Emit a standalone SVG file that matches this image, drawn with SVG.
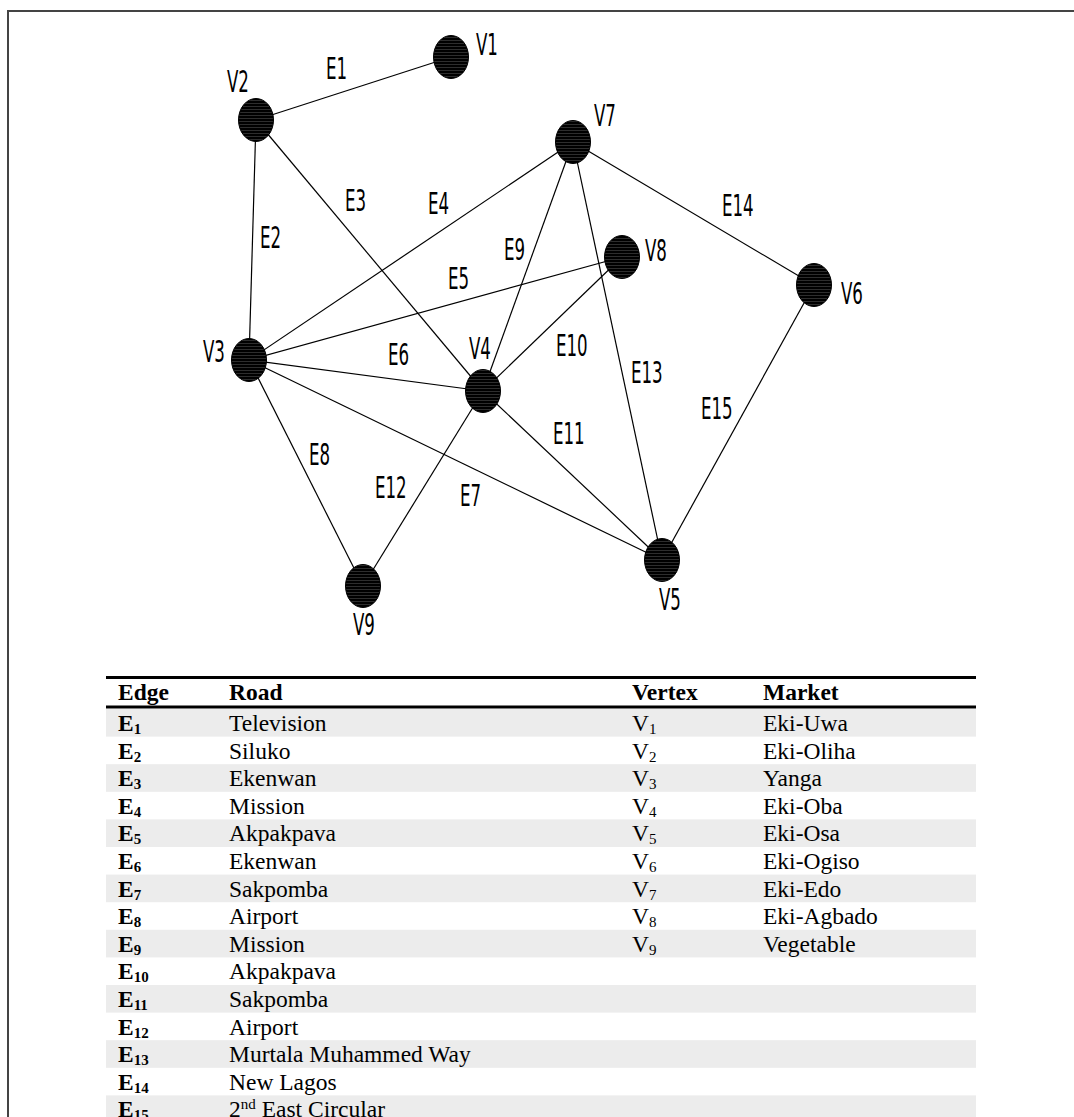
<svg xmlns="http://www.w3.org/2000/svg" width="1074" height="1117" viewBox="0 0 1074 1117">
<style>
.edge{stroke:#000;stroke-width:1.2;fill:none}
.node{fill:url(#hatch);stroke:#000;stroke-width:1}
.lbl{font-family:"DejaVu Sans Condensed","DejaVu Sans",sans-serif;font-stretch:condensed;font-size:18.5px;fill:#000}
.th{font-family:"Liberation Serif","Times New Roman",serif;font-weight:bold;font-size:23.5px;fill:#000}
.td{font-family:"Liberation Serif","Times New Roman",serif;font-size:23.5px;fill:#000}
.eb{font-weight:bold}
.sub{font-size:15px}
.band{fill:#ececec}
.rule{stroke:#000;fill:none}
.frame{stroke:#444;stroke-width:2;fill:none}
</style>
<defs>
<pattern id="hatch" patternUnits="userSpaceOnUse" width="6" height="3">
<rect width="6" height="3" fill="#000"/>
<line x1="0" y1="1.5" x2="6" y2="1.5" stroke="#5a5a5a" stroke-width="0.5"/>
</pattern>
</defs>
<rect width="1074" height="1117" fill="#fff"/>
<path class="frame" d="M8,1117 V11 H1074"/>

<g id="connectors">
<line class="edge" x1="256" y1="120" x2="451" y2="57"/>
<line class="edge" x1="256" y1="120" x2="249" y2="360"/>
<line class="edge" x1="256" y1="120" x2="483" y2="391"/>
<line class="edge" x1="249" y1="360" x2="573" y2="142"/>
<line class="edge" x1="249" y1="360" x2="622" y2="257"/>
<line class="edge" x1="249" y1="360" x2="483" y2="391"/>
<line class="edge" x1="249" y1="360" x2="662" y2="560"/>
<line class="edge" x1="249" y1="360" x2="363" y2="586"/>
<line class="edge" x1="483" y1="391" x2="573" y2="142"/>
<line class="edge" x1="483" y1="391" x2="622" y2="257"/>
<line class="edge" x1="483" y1="391" x2="662" y2="560"/>
<line class="edge" x1="483" y1="391" x2="363" y2="586"/>
<line class="edge" x1="573" y1="142" x2="662" y2="560"/>
<line class="edge" x1="573" y1="142" x2="814" y2="285"/>
<line class="edge" x1="814" y1="285" x2="662" y2="560"/>
</g>

<g id="edge-labels">
<text class="lbl" transform="translate(326,79) scale(1,1.63)">E1</text>
<text class="lbl" transform="translate(260,248) scale(1,1.63)">E2</text>
<text class="lbl" transform="translate(345,211) scale(1,1.63)">E3</text>
<text class="lbl" transform="translate(428,214) scale(1,1.63)">E4</text>
<text class="lbl" transform="translate(448,289) scale(1,1.63)">E5</text>
<text class="lbl" transform="translate(388,365) scale(1,1.63)">E6</text>
<text class="lbl" transform="translate(460,506) scale(1,1.63)">E7</text>
<text class="lbl" transform="translate(309,465) scale(1,1.63)">E8</text>
<text class="lbl" transform="translate(504,260) scale(1,1.63)">E9</text>
<text class="lbl" transform="translate(556,356) scale(1,1.63)">E10</text>
<text class="lbl" transform="translate(553,444) scale(1,1.63)">E11</text>
<text class="lbl" transform="translate(375,498) scale(1,1.63)">E12</text>
<text class="lbl" transform="translate(631,383) scale(1,1.63)">E13</text>
<text class="lbl" transform="translate(722,216) scale(1,1.63)">E14</text>
<text class="lbl" transform="translate(701,419) scale(1,1.63)">E15</text>
</g>

<g id="V1"><ellipse class="node" cx="451" cy="57" rx="17.5" ry="21.5"/><text class="lbl" transform="translate(476,55) scale(1,1.63)">V1</text></g>
<g id="V2"><ellipse class="node" cx="256" cy="120" rx="17.5" ry="21.5"/><text class="lbl" transform="translate(227,92) scale(1,1.63)">V2</text></g>
<g id="V3"><ellipse class="node" cx="249" cy="360" rx="17.5" ry="21.5"/><text class="lbl" transform="translate(203,362) scale(1,1.63)">V3</text></g>
<g id="V4"><ellipse class="node" cx="483" cy="391" rx="17.5" ry="21.5"/><text class="lbl" transform="translate(469,359) scale(1,1.63)">V4</text></g>
<g id="V5"><ellipse class="node" cx="662" cy="560" rx="17.5" ry="21.5"/><text class="lbl" transform="translate(659,610) scale(1,1.63)">V5</text></g>
<g id="V6"><ellipse class="node" cx="814" cy="285" rx="17.5" ry="21.5"/><text class="lbl" transform="translate(841,304) scale(1,1.63)">V6</text></g>
<g id="V7"><ellipse class="node" cx="573" cy="142" rx="17.5" ry="21.5"/><text class="lbl" transform="translate(594,126) scale(1,1.63)">V7</text></g>
<g id="V8"><ellipse class="node" cx="622" cy="257" rx="17.5" ry="21.5"/><text class="lbl" transform="translate(645,261) scale(1,1.63)">V8</text></g>
<g id="V9"><ellipse class="node" cx="363" cy="586" rx="17.5" ry="21.5"/><text class="lbl" transform="translate(353,635) scale(1,1.63)">V9</text></g>

<g id="table">
<rect class="band" x="106" y="709" width="870" height="27.6"/>
<rect class="band" x="106" y="764.2" width="870" height="27.6"/>
<rect class="band" x="106" y="819.4" width="870" height="27.6"/>
<rect class="band" x="106" y="874.6" width="870" height="27.6"/>
<rect class="band" x="106" y="929.8" width="870" height="27.6"/>
<rect class="band" x="106" y="985" width="870" height="27.6"/>
<rect class="band" x="106" y="1040.2" width="870" height="27.6"/>
<rect class="band" x="106" y="1095.4" width="870" height="27.6"/>
<line class="rule" x1="106" y1="677.5" x2="976" y2="677.5" stroke-width="3"/>
<line class="rule" x1="106" y1="707" x2="976" y2="707" stroke-width="3"/>
<text class="th" x="118" y="700">Edge</text>
<text class="th" x="229" y="700">Road</text>
<text class="th" x="632" y="700">Vertex</text>
<text class="th" x="763" y="700">Market</text>

<text class="td eb" x="118" y="731">E<tspan class="sub" dy="3">1</tspan></text>
<text class="td eb" x="118" y="758.6">E<tspan class="sub" dy="3">2</tspan></text>
<text class="td eb" x="118" y="786.2">E<tspan class="sub" dy="3">3</tspan></text>
<text class="td eb" x="118" y="813.8">E<tspan class="sub" dy="3">4</tspan></text>
<text class="td eb" x="118" y="841.4">E<tspan class="sub" dy="3">5</tspan></text>
<text class="td eb" x="118" y="869">E<tspan class="sub" dy="3">6</tspan></text>
<text class="td eb" x="118" y="896.6">E<tspan class="sub" dy="3">7</tspan></text>
<text class="td eb" x="118" y="924.2">E<tspan class="sub" dy="3">8</tspan></text>
<text class="td eb" x="118" y="951.8">E<tspan class="sub" dy="3">9</tspan></text>
<text class="td eb" x="118" y="979.4">E<tspan class="sub" dy="3">10</tspan></text>
<text class="td eb" x="118" y="1007">E<tspan class="sub" dy="3">11</tspan></text>
<text class="td eb" x="118" y="1034.6">E<tspan class="sub" dy="3">12</tspan></text>
<text class="td eb" x="118" y="1062.2">E<tspan class="sub" dy="3">13</tspan></text>
<text class="td eb" x="118" y="1089.8">E<tspan class="sub" dy="3">14</tspan></text>
<text class="td eb" x="118" y="1117.4">E<tspan class="sub" dy="3">15</tspan></text>

<text class="td" x="229" y="731">Television</text>
<text class="td" x="229" y="758.6">Siluko</text>
<text class="td" x="229" y="786.2">Ekenwan</text>
<text class="td" x="229" y="813.8">Mission</text>
<text class="td" x="229" y="841.4">Akpakpava</text>
<text class="td" x="229" y="869">Ekenwan</text>
<text class="td" x="229" y="896.6">Sakpomba</text>
<text class="td" x="229" y="924.2">Airport</text>
<text class="td" x="229" y="951.8">Mission</text>
<text class="td" x="229" y="979.4">Akpakpava</text>
<text class="td" x="229" y="1007">Sakpomba</text>
<text class="td" x="229" y="1034.6">Airport</text>
<text class="td" x="229" y="1062.2">Murtala Muhammed Way</text>
<text class="td" x="229" y="1089.8">New Lagos</text>
<text class="td" x="229" y="1117.4">2<tspan class="sub" dy="-8">nd</tspan><tspan dy="8"> East Circular</tspan></text>

<text class="td" x="632" y="731">V<tspan class="sub" dy="3">1</tspan></text>
<text class="td" x="632" y="758.6">V<tspan class="sub" dy="3">2</tspan></text>
<text class="td" x="632" y="786.2">V<tspan class="sub" dy="3">3</tspan></text>
<text class="td" x="632" y="813.8">V<tspan class="sub" dy="3">4</tspan></text>
<text class="td" x="632" y="841.4">V<tspan class="sub" dy="3">5</tspan></text>
<text class="td" x="632" y="869">V<tspan class="sub" dy="3">6</tspan></text>
<text class="td" x="632" y="896.6">V<tspan class="sub" dy="3">7</tspan></text>
<text class="td" x="632" y="924.2">V<tspan class="sub" dy="3">8</tspan></text>
<text class="td" x="632" y="951.8">V<tspan class="sub" dy="3">9</tspan></text>

<text class="td" x="763" y="731">Eki-Uwa</text>
<text class="td" x="763" y="758.6">Eki-Oliha</text>
<text class="td" x="763" y="786.2">Yanga</text>
<text class="td" x="763" y="813.8">Eki-Oba</text>
<text class="td" x="763" y="841.4">Eki-Osa</text>
<text class="td" x="763" y="869">Eki-Ogiso</text>
<text class="td" x="763" y="896.6">Eki-Edo</text>
<text class="td" x="763" y="924.2">Eki-Agbado</text>
<text class="td" x="763" y="951.8">Vegetable</text>
</g>
</svg>
